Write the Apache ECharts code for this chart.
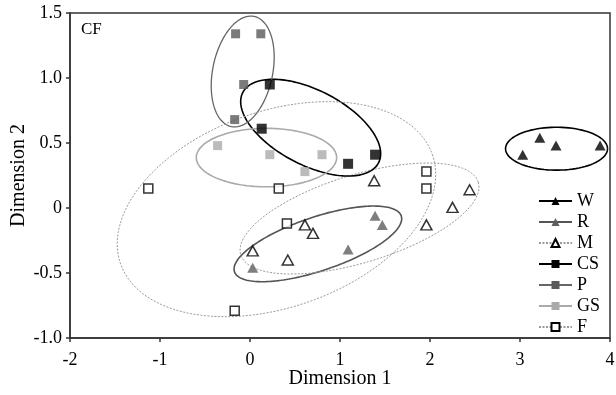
<!DOCTYPE html>
<html><head><meta charset="utf-8">
<script src="https://cdn.jsdelivr.net/npm/echarts@6/dist/echarts.min.js"></script>
<style>html,body{margin:0;padding:0;background:#fff}#c{width:616px;height:395px}</style>
</head><body><div id="c"></div>
<script>
// ---- data ----
const groupNames = ['W', 'R', 'M', 'CS', 'P', 'GS', 'F'];
const xTicks = [-2, -1, 0, 1, 2, 3, 4];
const yTicks = [-1.0, -0.5, 0, 0.5, 1.0, 1.5];
const yTickLabels = ['-1.0', '-0.5', '0', '0.5', '1.0', '1.5'];

const pointsW  = [[3.03, 0.41], [3.22, 0.54], [3.40, 0.48], [3.89, 0.48]];
const pointsR  = [[0.03, -0.46], [1.09, -0.32], [1.39, -0.06], [1.47, -0.13]];
const pointsM  = [[0.03, -0.33], [0.42, -0.40], [0.61, -0.13], [0.70, -0.195], [1.38, 0.21], [1.96, -0.13], [2.25, 0.005], [2.44, 0.14]];
const pointsCS = [[0.22, 0.95], [0.13, 0.61], [1.09, 0.34], [1.39, 0.41]];
const pointsP  = [[-0.16, 1.34], [0.12, 1.34], [-0.07, 0.95], [-0.17, 0.68]];
const pointsGS = [[-0.36, 0.48], [0.22, 0.41], [0.61, 0.28], [0.80, 0.41]];
const pointsF  = [[-1.13, 0.15], [0.32, 0.15], [0.41, -0.12], [1.96, 0.28], [1.96, 0.15], [-0.17, -0.79]];

// confidence ellipses: centre, semi-axis vectors (data units)
const ellipseCenters = [[3.406, 0.456], [0.754, -0.276], [1.217, -0.081], [0.674, 0.618], [-0.081, 1.05], [0.183, 0.388], [0.294, -0.009]];
const ellipseMajor   = [[0.567, 0], [0.927, 0.215], [1.32, 0.279], [0.754, -0.271], [0.127, 0.424], [0.78, 0], [1.732, 0.421]];
const ellipseMinor   = [[0, 0.165], [0.095, -0.196], [0.142, -0.323], [-0.191, -0.255], [0.326, -0.047], [0, 0.225], [0.361, -0.712]];

const groupPoints = [pointsW, pointsR, pointsM, pointsCS, pointsP, pointsGS, pointsF];

// ---- styles ----
const FONT = 'Liberation Serif';
const styles = [
  { sym: 'triangle', legendSym: 'triangle', fill: '#000', border: null, line: '#000', lw: 1.6, dash: 'solid', size: [11, 10] },
  { sym: 'triangle', legendSym: 'triangle', fill: '#5e5e5e', border: null, line: '#555', lw: 1.6, dash: 'solid', size: [11, 10] },
  { sym: 'triangle', legendSym: 'emptyTriangle', fill: '#fff', border: '#000', line: '#999', lw: 1, dash: [2, 1.5], size: [11, 10], legendFill: '#000' },
  { sym: 'rect', legendSym: 'rect', fill: '#000', border: null, line: '#000', lw: 1.6, dash: 'solid', size: 10 },
  { sym: 'rect', legendSym: 'rect', fill: '#5a5a5a', border: null, line: '#666', lw: 1.3, dash: 'solid', size: 9 },
  { sym: 'rect', legendSym: 'rect', fill: '#aaa', border: null, line: '#aaa', lw: 1.6, dash: 'solid', size: 9 },
  { sym: 'rect', legendSym: 'emptyRect', fill: '#fff', border: '#000', line: '#999', lw: 1, dash: [2, 1.5], size: 9, legendFill: '#000' }
];

function ellipsePath(c, u, v) {
  const pts = [];
  const n = 180;
  for (let i = 0; i <= n; i++) {
    const t = 2 * Math.PI * i / n;
    pts.push([c[0] + u[0] * Math.cos(t) + v[0] * Math.sin(t),
              c[1] + u[1] * Math.cos(t) + v[1] * Math.sin(t)]);
  }
  return pts;
}

const series = [];
groupNames.forEach((name, i) => {
  const s = styles[i];
  series.push({
    name: name, type: 'line', z: 2, silent: true, animation: false,
    data: ellipsePath(ellipseCenters[i], ellipseMajor[i], ellipseMinor[i]),
    showSymbol: false, symbol: s.legendSym, symbolSize: 8,
    itemStyle: { color: s.legendFill || s.fill },
    lineStyle: { color: s.line, width: s.lw, type: s.dash },
    smooth: false
  });
});
groupNames.forEach((name, i) => {
  const s = styles[i];
  series.push({
    name: name, type: 'scatter', z: 3, animation: false,
    data: groupPoints[i], symbol: s.sym, symbolSize: s.size,
    itemStyle: s.border ? { color: s.fill, borderColor: s.border, borderWidth: 1.5 } : { color: s.fill }
  });
});

const chart = echarts.init(document.getElementById('c'), null, { renderer: 'canvas' });
chart.setOption({
  backgroundColor: '#fff',
  animation: false,
  title: { text: 'CF', left: 76, top: 16, textStyle: { fontFamily: FONT, fontSize: 17, fontWeight: 'normal', color: '#000' } },
  grid: { left: 70, top: 13, right: 6, bottom: 57, containLabel: false, outerBoundsMode: 'none',
          show: true, borderColor: '#333', borderWidth: 1.5, backgroundColor: 'transparent' },
  legend: {
    data: groupNames, orient: 'vertical', left: 533, top: 187,
    itemWidth: 33, itemHeight: 10, itemGap: 3, selectedMode: false,
    textStyle: { fontFamily: FONT, fontSize: 18, color: '#000' }
  },
  xAxis: {
    type: 'value', min: xTicks[0], max: xTicks[xTicks.length - 1], interval: 1,
    name: 'Dimension 1', nameLocation: 'middle', nameGap: 31, nameMoveOverlap: false,
    nameTextStyle: { fontFamily: FONT, fontSize: 20, color: '#000' },
    axisLine: { show: true, onZero: false, lineStyle: { color: '#333', width: 1.5 } },
    axisTick: { show: true, inside: false, length: 4, lineStyle: { color: '#333', width: 1.5 } },
    axisLabel: { fontFamily: FONT, fontSize: 18, color: '#000', margin: 13 },
    splitLine: { show: false }
  },
  yAxis: {
    type: 'value', min: yTicks[0], max: yTicks[yTicks.length - 1], interval: 0.5,
    name: 'Dimension 2', nameLocation: 'middle', nameGap: 41, nameRotate: 90, nameMoveOverlap: false,
    nameTextStyle: { fontFamily: FONT, fontSize: 20, color: '#000' },
    axisLine: { show: true, onZero: false, lineStyle: { color: '#333', width: 1.5 } },
    axisTick: { show: true, inside: false, length: 4, lineStyle: { color: '#333', width: 1.5 } },
    axisLabel: { fontFamily: FONT, fontSize: 18, color: '#000', margin: 8,
      formatter: function (v) { const k = yTicks.findIndex(t => Math.abs(t - v) < 1e-9); return k >= 0 ? yTickLabels[k] : ''; } },
    splitLine: { show: false }
  },
  series: series
});
</script></body></html>
